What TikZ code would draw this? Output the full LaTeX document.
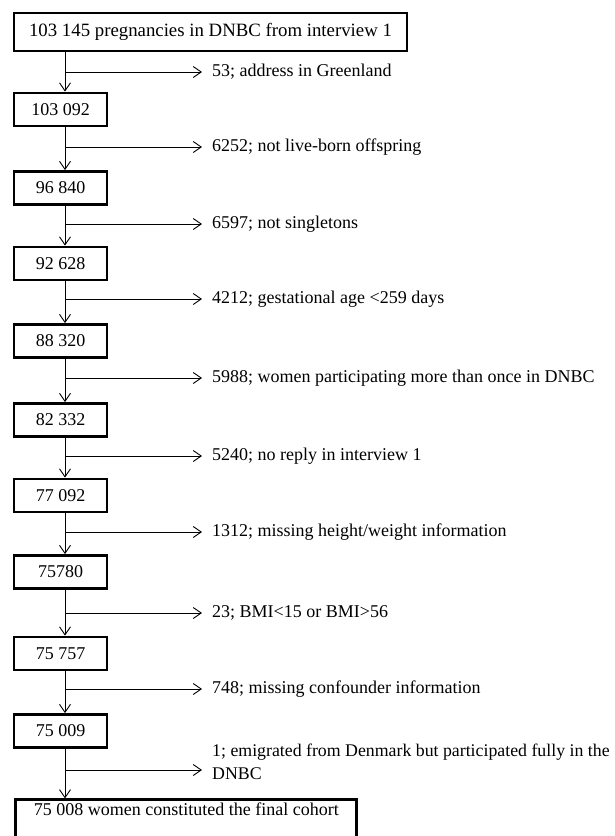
\documentclass[tikz,border=0pt]{standalone}
\usepackage{fontspec}
\setmainfont{Liberation Serif}
\usetikzlibrary{arrows.meta}
\begin{document}
\begin{tikzpicture}[x=1pt,y=-1pt,
  txt/.style={font=\fontsize{18}{23}\selectfont},
  boxn/.style={txt,draw,line width=2.8pt,minimum height=33pt,inner sep=0pt},
  small/.style={boxn,minimum width=93pt},
  lab/.style={txt,anchor=west,inner xsep=10pt,inner ysep=0pt,align=left},
  arr/.style={-{Straight Barb[length=8pt,width=11pt]},line width=0.9pt}]
\useasboundingbox (0,0) rectangle (615,836);
\clip (0,0) rectangle (615,836);

% main boxes
\node[boxn,minimum width=393pt,minimum height=38pt,font=\fontsize{18.8}{23}\selectfont] (b1) at (210.5,32) {103 145 pregnancies in DNBC from interview 1};
\node[small] (b2) at (60.5,109.5) {103 092};
\node[small] (b3) at (60.5,188) {96 840};
\node[small] (b4) at (60.5,263.5) {92 628};
\node[small] (b5) at (60.5,341) {88 320};
\node[small] (b6) at (60.5,420) {82 332};
\node[small] (b7) at (60.5,495.5) {77 092};
\node[small] (b8) at (60.5,572) {75780};
\node[small] (b9) at (60.5,653.5) {75 757};
\node[small] (b10) at (60.5,731) {75 009};
\node[boxn,anchor=north west,minimum width=341pt,text height=12pt,text depth=40pt,inner ysep=3.5pt] (fin) at (14.4,798.4) {75 008 women constituted the final cohort};

% exclusion labels
\node[lab] (l1) at (202,72) {53; address in Greenland};
\node[lab] (l2) at (202,147) {6252; not live-born offspring};
\node[lab] (l3) at (202,224) {6597; not singletons};
\node[lab] (l4) at (202,299) {4212; gestational age <259 days};
\node[lab] (l5) at (202,378) {5988; women participating more than once in DNBC};
\node[lab] (l6) at (202,456) {5240; no reply in interview 1};
\node[lab] (l7) at (202,532) {1312; missing height/weight information};
\node[lab] (l8) at (202,613) {23; BMI<15 or BMI>56};
\node[lab] (l9) at (202,689) {748; missing confounder information};
\node[lab,font=\fontsize{17.8}{23}\selectfont] (l10) at (202,762) {1; emigrated from Denmark but participated fully in the\\DNBC};

% junctions
\coordinate (j1) at (65,72);
\coordinate (j2) at (65,147);
\coordinate (j3) at (65,224);
\coordinate (j4) at (65,299);
\coordinate (j5) at (65,378);
\coordinate (j6) at (65,456);
\coordinate (j7) at (65,532);
\coordinate (j8) at (65,613);
\coordinate (j9) at (65,689);
\coordinate (j10) at (65,770);

% vertical flow
\draw[arr] (b1.south -| j1) -- (b2.north -| j1);
\draw[arr] (b2.south -| j2) -- (b3.north -| j2);
\draw[arr] (b3.south -| j3) -- (b4.north -| j3);
\draw[arr] (b4.south -| j4) -- (b5.north -| j4);
\draw[arr] (b5.south -| j5) -- (b6.north -| j5);
\draw[arr] (b6.south -| j6) -- (b7.north -| j6);
\draw[arr] (b7.south -| j7) -- (b8.north -| j7);
\draw[arr] (b8.south -| j8) -- (b9.north -| j8);
\draw[arr] (b9.south -| j9) -- (b10.north -| j9);
\draw[arr] (b10.south -| j10) -- (fin.north -| j10);

% branches
\draw[arr] (j1) -- (j1 -| l1.west);
\draw[arr] (j2) -- (j2 -| l2.west);
\draw[arr] (j3) -- (j3 -| l3.west);
\draw[arr] (j4) -- (j4 -| l4.west);
\draw[arr] (j5) -- (j5 -| l5.west);
\draw[arr] (j6) -- (j6 -| l6.west);
\draw[arr] (j7) -- (j7 -| l7.west);
\draw[arr] (j8) -- (j8 -| l8.west);
\draw[arr] (j9) -- (j9 -| l9.west);
\draw[arr] (j10) -- (j10 -| l10.west);
\end{tikzpicture}
\end{document}
